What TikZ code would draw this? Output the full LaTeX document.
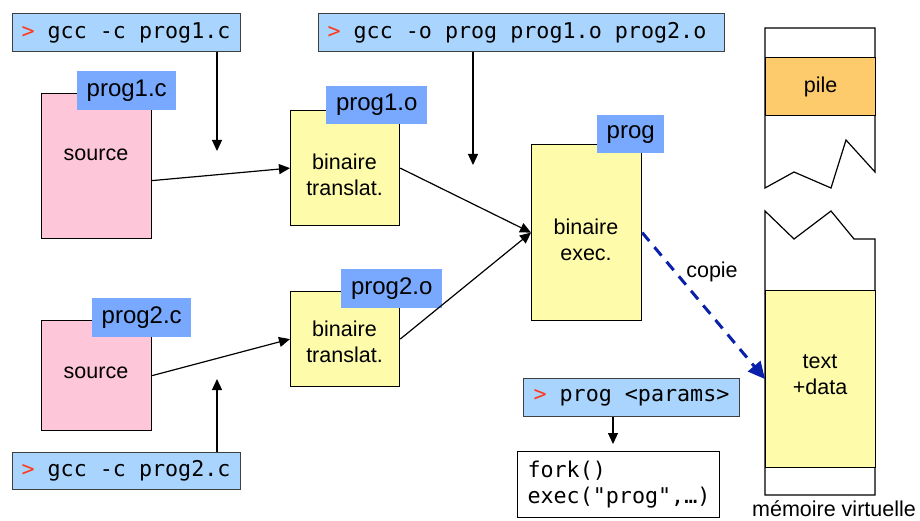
\documentclass[tikz,border=0pt]{standalone}
\usepackage{fontspec}
\setmainfont{Liberation Sans}
\newfontfamily\monofnt{DejaVu Sans Mono}
\newcommand\monosetup{\monofnt\fontsize{21.7}{26}\selectfont}
\newcommand\msp{\hspace*{13.06pt}}
\usetikzlibrary{arrows.meta,calc}
\definecolor{cmdblue}{HTML}{A8D4FE}
\definecolor{lblblue}{HTML}{78A9FE}
\definecolor{srcpink}{HTML}{FDC6D9}
\definecolor{binyellow}{HTML}{FEFCAB}
\definecolor{pileorange}{HTML}{FDCB6B}
\definecolor{promptred}{HTML}{FF3A1C}
\definecolor{copyblue}{HTML}{0A1FAA}
\begin{document}
\begin{tikzpicture}[x=1pt,y=-1pt,
 box/.style={draw=black,line width=1.2pt,inner sep=0pt,anchor=north west},
 lbl/.style={fill=lblblue,inner sep=0pt,anchor=north west,font=\fontsize{24}{28}\selectfont},
 cmd/.style={draw=black!75,line width=1pt,fill=cmdblue,anchor=north west,inner xsep=2pt,inner ysep=0pt,align=left,font=\monosetup},
 txt/.style={align=center,font=\fontsize{21.5}{26}\selectfont,inner sep=0pt},
 arr/.style={line width=1.2pt,-{Triangle[length=11pt,width=10pt]}},
 copyarr/.style={draw=copyblue,line width=3pt,dash pattern=on 11pt off 8pt,-{Triangle[length=17pt,width=16pt]}},
 frame/.style={draw=black,line width=1.2pt,fill=white},
]
\useasboundingbox (0,0) rectangle (920,521);

% sources
\node[box,fill=srcpink,minimum width=110pt,minimum height=145pt] (src1) at (41,93) {};
\node[txt] (src1t) at (96,155) {source};
\node[lbl,minimum width=99pt,minimum height=39pt] (src1l) at (77,71) {prog1.c};
\node[box,fill=srcpink,minimum width=110pt,minimum height=110pt] (src2) at (41,320) {};
\node[txt] (src2t) at (96,373) {source};
\node[lbl,minimum width=99pt,minimum height=39pt] (src2l) at (92,298) {prog2.c};

% commands
\node[cmd,text width=224pt,minimum height=38pt] (cmd1) at (12,13) {\hspace*{7pt}\textcolor{promptred}{>}\msp gcc\msp -c\msp prog1.c};
\node[cmd,text width=224pt,minimum height=37pt] (cmd3) at (12,452) {\hspace*{7pt}\textcolor{promptred}{>}\msp gcc\msp -c\msp prog2.c};
\node[cmd,text width=402pt,minimum height=38pt] (cmd2) at (318,13) {\hspace*{7pt}\textcolor{promptred}{>}\msp gcc\msp -o\msp prog\msp prog1.o\msp prog2.o};
\node[cmd,text width=212pt,minimum height=38pt] (cmd4) at (523,378) {\hspace*{8pt}\textcolor{promptred}{>}\msp prog\msp <params>};
\node[draw=black,line width=1pt,anchor=north west,inner xsep=2pt,inner ysep=0pt,text width=198pt,minimum height=66pt,align=left,font=\monosetup] (fork) at (517,451) {\hspace*{8pt}fork()\\\hspace*{8pt}exec("prog",\ldots)};

% objects
\node[box,fill=binyellow,minimum width=109pt,minimum height=115pt] (bin1) at (290,110) {};
\node[txt] (bin1t) at (344.5,175) {binaire\\translat.};
\node[lbl,minimum width=101pt,minimum height=38pt] (bin1l) at (326,86) {prog1.o};
\node[box,fill=binyellow,minimum width=109pt,minimum height=95pt] (bin2) at (290,291) {};
\node[txt] (bin2t) at (344.5,342) {binaire\\translat.};
\node[lbl,minimum width=101pt,minimum height=39pt] (bin2l) at (341,269) {prog2.o};

% executable
\node[box,fill=binyellow,minimum width=110pt,minimum height=176pt] (prog) at (531,144) {};
\node[txt] (progt) at (586,240) {binaire\\exec.};
\node[lbl,minimum width=67pt,minimum height=38pt] (progl) at (597,115) {prog};

% memory
\path[frame] (765,188) -- (765,28) -- (875,28) -- (875,172) -- (846,140) -- (831,188) -- (794,172) -- cycle;
\node[box,fill=pileorange,minimum width=110pt,minimum height=58pt,font=\fontsize{21.5}{26}\selectfont] (pile) at (765,57) {pile};
\path[frame] (765,211) -- (794,239) -- (831,211) -- (854,239) -- (875,239) -- (875,495) -- (765,495) -- cycle;
\node[box,fill=binyellow,minimum width=110pt,minimum height=177pt] (td) at (765,290) {};
\node[txt] (tdt) at (820,375) {text\\+data};
\node[txt,anchor=base] (mem) at (834,516) {mémoire virtuelle};

% arrow end points
\coordinate (c1end) at (217,151);
\coordinate (c2end) at (473,165);
\coordinate (c3end) at (217,379);
\coordinate (c4end) at (613,444);

\draw[arr] (c1end |- cmd1.south) -- (c1end);
\draw[arr] (c2end |- cmd2.south) -- (c2end);
\draw[arr] (c3end |- cmd3.north) -- (c3end);
\draw[arr] (c4end |- cmd4.south) -- (c4end);

\draw[arr] ([yshift=-14.5pt]src1.east) -- (bin1.west);
\draw[arr] (src2.east) -- (bin2.west);
\draw[arr] (bin1.east) -- (prog.west);
\draw[arr] (bin2.east) -- (prog.west);

\draw[copyarr] (prog.east) -- (td.west);
\node[txt] (copie) at (712,272) {copie};
\end{tikzpicture}
\end{document}
